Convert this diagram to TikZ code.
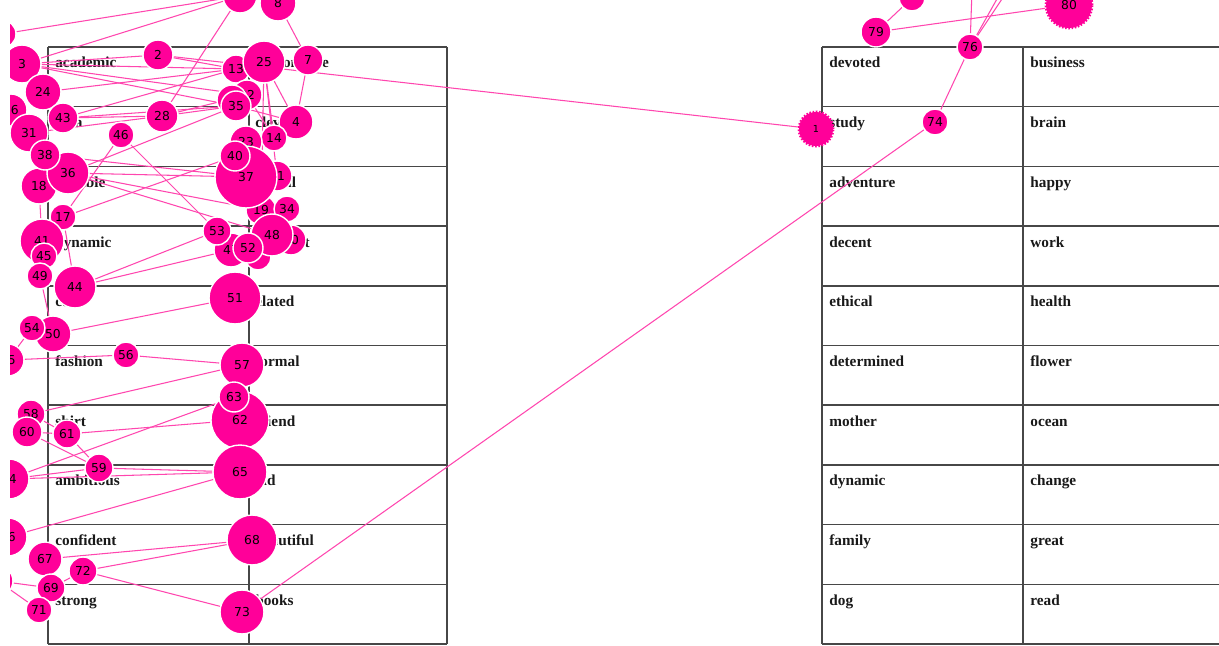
\documentclass[tikz,border=0pt]{standalone}
\usepackage{fontspec}
\setmainfont{Liberation Serif}
\newfontfamily\labelfont{DejaVu Sans}
\definecolor{hotpink}{RGB}{255,0,153}
\definecolor{linkpink}{RGB}{255,70,175}
\pgfdeclarelayer{tbl}
\pgfdeclarelayer{lnk}
\pgfsetlayers{tbl,lnk,main}

\begin{document}
\begin{tikzpicture}[x=0.02cm, y=-0.02cm,
  rad/.style={minimum size=#1*0.04cm},
  word/.style={anchor=base west, inner sep=0pt, text=black!90, font=\fontsize{8.7}{10}\selectfont\bfseries},
  rule/.style={draw=black!72, line width=0.9pt},
  link/.style={draw=linkpink, line width=0.6pt},
  jag/.style={draw=hotpink, line width=1.6pt, dash pattern=on 0.9pt off 0.9pt}]
\useasboundingbox (0,0) rectangle (1219,645);

% word tables
\begin{pgfonlayer}{tbl}
\fill[white] (0,0) rectangle (1219,645);
\foreach \i in {0,...,10}{
  \draw[rule] (48,{47+59.7*\i}) -- (447,{47+59.7*\i});
  \draw[rule] (822,{47+59.7*\i}) -- (1219,{47+59.7*\i});
}
\foreach \x in {48,249,447,822,1023}
  \draw[rule] (\x,47) -- (\x,644);
\foreach \w [count=\i from 0] in {academic,idea,capable,dynamic,cute,fashion,shirt,ambitious,confident,strong}
  \node[word] (a\i) at (55,{68+59.7*\i}) {\w};
\foreach \w [count=\i from 0] in {responsible,clever,casual,pleasant,elated,formal,friend,old,beautiful,books}
  \node[word] (b\i) at (255,{68+59.7*\i}) {\w};
\foreach \w [count=\i from 0] in {devoted,study,adventure,decent,ethical,determined,mother,dynamic,family,dog}
  \node[word] (c\i) at (829,{68+59.7*\i}) {\w};
\foreach \w [count=\i from 0] in {business,brain,happy,work,health,flower,ocean,change,great,read}
  \node[word] (d\i) at (1030,{68+59.7*\i}) {\w};
\end{pgfonlayer}

\begin{scope}[every node/.style={circle, fill=hotpink, draw=white, line width=0.8pt, inner sep=0pt, font=\labelfont\fontsize{7}{8}\selectfont}]
    \node[rad=14] (tl) at (2,34) {};
    \node[rad=17, jag] (1) at (816,129) {\fontsize{5.5}{6}\selectfont 1};
    \node[rad=15] (2) at (158,55) {2};
    \node[rad=19] (3) at (22,64) {3};
    \node[rad=17] (4) at (296,122) {4};
    \node[rad=17] (5) at (240,-4) {};
    \node[rad=15] (7) at (308,60) {7};
    \node[rad=18] (8) at (278,3) {8};
    \node[rad=14] (13) at (236,69) {13};
    \node[rad=13] (14) at (274,138) {14};
    \node[rad=16] (16) at (11,110) {16};
    \node[rad=13] (17) at (63,217) {17};
    \node[rad=18] (18) at (39,186) {18};
    \node[rad=15] (19) at (261,210) {19};
    \node[rad=15] (21) at (277,176) {21};
    \node[rad=16] (23) at (246,142) {23};
    \node[rad=18] (24) at (43,92) {24};
    \node[rad=21] (25) at (264,62) {25};
    \node[rad=16] (28) at (162,116) {28};
    \node[rad=15] (30) at (291,240) {30};
    \node[rad=19] (31) at (29,133) {31};
    \node[rad=15] (32) at (247,95) {32};
    \node[rad=15] (33) at (232,100) {};
    \node[rad=13] (34) at (287,209) {34};
    \node[rad=15] (35) at (236,106) {35};
    \node[rad=21] (36) at (68,173) {36};
    \node[rad=31] (37) at (246,177) {37};
    \node[rad=15] (38) at (45,155) {38};
    \node[rad=13] (39) at (258,257) {};
    \node[rad=15] (40) at (235,156) {40};
    \node[rad=22] (41) at (42,241) {41};
    \node[rad=15] (43) at (63,118) {43};
    \node[rad=21] (44) at (75,287) {44};
    \node[rad=13] (45) at (44,256) {45};
    \node[rad=13] (46) at (121,135) {46};
    \node[rad=17] (47) at (231,250) {47};
    \node[rad=21] (48) at (272,235) {48};
    \node[rad=13] (49) at (40,276) {49};
    \node[rad=18] (50) at (53,334) {50};
    \node[rad=26] (51) at (235,298) {51};
    \node[rad=15] (52) at (248,248) {52};
    \node[rad=14] (53) at (217,231) {53};
    \node[rad=13] (54) at (32,328) {54};
    \node[rad=16] (55) at (8,360) {55};
    \node[rad=13] (56) at (126,355) {56};
    \node[rad=22] (57) at (242,365) {57};
    \node[rad=14] (58) at (31,414) {58};
    \node[rad=14] (59) at (99,468) {59};
    \node[rad=15] (60) at (27,432) {60};
    \node[rad=14] (61) at (67,434) {61};
    \node[rad=29] (62) at (240,420) {62};
    \node[rad=15] (63) at (234,397) {63};
    \node[rad=20] (64) at (9,479) {64};
    \node[rad=27] (65) at (240,472) {65};
    \node[rad=19] (66) at (8,537) {66};
    \node[rad=17] (67) at (45,559) {67};
    \node[rad=25] (68) at (252,540) {68};
    \node[rad=14] (69) at (51,588) {69};
    \node[rad=15] (70) at (-2,581) {};
    \node[rad=13] (71) at (39,610) {71};
    \node[rad=14] (72) at (83,571) {72};
    \node[rad=22] (73) at (242,612) {73};
    \node[rad=13] (74) at (935,122) {74};
    \node[rad=13] (76) at (970,47) {76};
    \node[rad=13] (78) at (912,-2) {};
    \node[rad=15] (79) at (876,32) {79};
    \node[rad=23, jag] (80) at (1069,5) {80};
\end{scope}

\coordinate (u1) at (972,-10);
\coordinate (u2) at (1002,-10);
\coordinate (u3) at (1008,-10);

% links under the bubbles
\begin{pgfonlayer}{lnk}
\draw[link] (tl) -- (5);
\draw[link] (3) -- (5);
\draw[link] (28) -- (5);
\draw[link] (3) -- (2);
\draw[link] (3) -- (13);
\draw[link] (3) -- (32);
\draw[link] (3) -- (35);
\draw[link] (2) -- (13);
\draw[link] (2) -- (1);
\draw[link] (24) -- (13);
\draw[link] (43) -- (13);
\draw[link] (43) -- (28);
\draw[link] (43) -- (35);
\draw[link] (31) -- (28);
\draw[link] (28) -- (35);
\draw[link] (28) -- (32);
\draw[link] (35) -- (36);
\draw[link] (46) -- (17);
\draw[link] (46) -- (53);
\draw[link] (36) -- (37);
\draw[link] (38) -- (37);
\draw[link] (36) -- (48);
\draw[link] (36) -- (19);
\draw[link] (17) -- (40);
\draw[link] (53) -- (44);
\draw[link] (44) -- (47);
\draw[link] (50) -- (51);
\draw[link] (55) -- (56);
\draw[link] (56) -- (57);
\draw[link] (58) -- (57);
\draw[link] (61) -- (62);
\draw[link] (64) -- (63);
\draw[link] (60) -- (61);
\draw[link] (58) -- (61);
\draw[link] (60) -- (59);
\draw[link] (61) -- (59);
\draw[link] (64) -- (65);
\draw[link] (59) -- (65);
\draw[link] (64) -- (59);
\draw[link] (66) -- (65);
\draw[link] (67) -- (68);
\draw[link] (72) -- (68);
\draw[link] (72) -- (73);
\draw[link] (72) -- (69);
\draw[link] (70) -- (69);
\draw[link] (70) -- (71);
\draw[link] (25) -- (4);
\draw[link] (7) -- (4);
\draw[link] (8) -- (7);
\draw[link] (25) -- (14);
\draw[link] (25) -- (21);
\draw[link] (25) -- (19);
\draw[link] (35) -- (4);
\draw[link] (32) -- (14);
\draw[link] (18) -- (41);
\draw[link] (17) -- (44);
\draw[link] (49) -- (50);
\draw[link] (54) -- (55);
\draw[link] (73) -- (74);
\draw[link] (74) -- (76);
\draw[link] (76) -- (u1);
\draw[link] (76) -- (u2);
\draw[link] (76) -- (u3);
\draw[link] (79) -- (80);
\draw[link] (79) -- (78);
\end{pgfonlayer}

% left margin of the view
\fill[white] (0,0) rectangle (10,645);
\end{tikzpicture}
\end{document}
